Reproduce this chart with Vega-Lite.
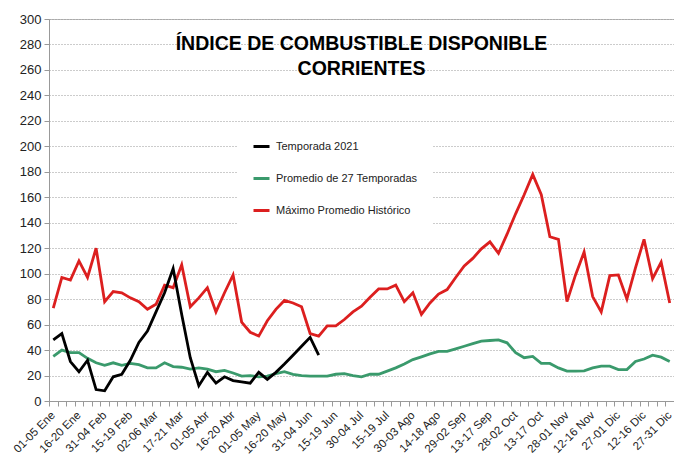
{
  "$schema": "https://vega.github.io/schema/vega-lite/v6.json",
  "width": 625,
  "height": 382,
  "autosize": {"type": "none"},
  "padding": {"left": 49, "top": 19, "right": 0, "bottom": 58},
  "background": "white",
  "title": {
    "text": ["ÍNDICE DE COMBUSTIBLE  DISPONIBLE", "CORRIENTES"],
    "font": "Liberation Sans",
    "fontSize": 19.5,
    "fontWeight": "bold",
    "color": "#000000",
    "lineHeight": 25,
    "anchor": "middle",
    "frame": "group",
    "offset": -66
  },
  "data": {
    "values": [
      {"pentada": "01-05 Ene", "Máximo Promedio Histórico": 73, "Promedio de 27 Temporadas": 35, "Temporada 2021": 48},
      {"pentada": "06-10 Ene", "Máximo Promedio Histórico": 97, "Promedio de 27 Temporadas": 40, "Temporada 2021": 53},
      {"pentada": "11-15 Ene", "Máximo Promedio Histórico": 95, "Promedio de 27 Temporadas": 38, "Temporada 2021": 31},
      {"pentada": "16-20 Ene", "Máximo Promedio Histórico": 110, "Promedio de 27 Temporadas": 38, "Temporada 2021": 23},
      {"pentada": "21-25 Ene", "Máximo Promedio Histórico": 97, "Promedio de 27 Temporadas": 33.5, "Temporada 2021": 32},
      {"pentada": "26-30 Ene", "Máximo Promedio Histórico": 120, "Promedio de 27 Temporadas": 30, "Temporada 2021": 9},
      {"pentada": "31-04 Feb", "Máximo Promedio Histórico": 78, "Promedio de 27 Temporadas": 28, "Temporada 2021": 8},
      {"pentada": "05-09 Feb", "Máximo Promedio Histórico": 86, "Promedio de 27 Temporadas": 30, "Temporada 2021": 19},
      {"pentada": "10-14 Feb", "Máximo Promedio Histórico": 85, "Promedio de 27 Temporadas": 28, "Temporada 2021": 21},
      {"pentada": "15-19 Feb", "Máximo Promedio Histórico": 81, "Promedio de 27 Temporadas": 29.5, "Temporada 2021": 32},
      {"pentada": "20-24 Feb", "Máximo Promedio Histórico": 78, "Promedio de 27 Temporadas": 28.5, "Temporada 2021": 46},
      {"pentada": "25-01 Mar", "Máximo Promedio Histórico": 72, "Promedio de 27 Temporadas": 26, "Temporada 2021": 55},
      {"pentada": "02-06 Mar", "Máximo Promedio Histórico": 76, "Promedio de 27 Temporadas": 26, "Temporada 2021": 70},
      {"pentada": "07-11 Mar", "Máximo Promedio Histórico": 91, "Promedio de 27 Temporadas": 30, "Temporada 2021": 85},
      {"pentada": "12-16 Mar", "Máximo Promedio Histórico": 89, "Promedio de 27 Temporadas": 27, "Temporada 2021": 104},
      {"pentada": "17-21 Mar", "Máximo Promedio Histórico": 107, "Promedio de 27 Temporadas": 26.5, "Temporada 2021": 68},
      {"pentada": "22-26 Mar", "Máximo Promedio Histórico": 74, "Promedio de 27 Temporadas": 25, "Temporada 2021": 34},
      {"pentada": "27-31 Mar", "Máximo Promedio Histórico": 81, "Promedio de 27 Temporadas": 26, "Temporada 2021": 12},
      {"pentada": "01-05 Abr", "Máximo Promedio Histórico": 89, "Promedio de 27 Temporadas": 25, "Temporada 2021": 22.5},
      {"pentada": "06-10 Abr", "Máximo Promedio Histórico": 70, "Promedio de 27 Temporadas": 23, "Temporada 2021": 14},
      {"pentada": "11-15 Abr", "Máximo Promedio Histórico": 85, "Promedio de 27 Temporadas": 24, "Temporada 2021": 19},
      {"pentada": "16-20 Abr", "Máximo Promedio Histórico": 99, "Promedio de 27 Temporadas": 22, "Temporada 2021": 16},
      {"pentada": "21-25 Abr", "Máximo Promedio Histórico": 62, "Promedio de 27 Temporadas": 19.5, "Temporada 2021": 15},
      {"pentada": "26-30 Abr", "Máximo Promedio Histórico": 54, "Promedio de 27 Temporadas": 20, "Temporada 2021": 14},
      {"pentada": "01-05 May", "Máximo Promedio Histórico": 51, "Promedio de 27 Temporadas": 19, "Temporada 2021": 22.5},
      {"pentada": "06-10 May", "Máximo Promedio Histórico": 63, "Promedio de 27 Temporadas": 19.5, "Temporada 2021": 17},
      {"pentada": "11-15 May", "Máximo Promedio Histórico": 72, "Promedio de 27 Temporadas": 21.5, "Temporada 2021": 22.5},
      {"pentada": "16-20 May", "Máximo Promedio Histórico": 79, "Promedio de 27 Temporadas": 23, "Temporada 2021": 29},
      {"pentada": "21-25 May", "Máximo Promedio Histórico": 77, "Promedio de 27 Temporadas": 21, "Temporada 2021": 36},
      {"pentada": "26-30 May", "Máximo Promedio Histórico": 74, "Promedio de 27 Temporadas": 20, "Temporada 2021": 43},
      {"pentada": "31-04 Jun", "Máximo Promedio Histórico": 53, "Promedio de 27 Temporadas": 19.5, "Temporada 2021": 50},
      {"pentada": "05-09 Jun", "Máximo Promedio Histórico": 51, "Promedio de 27 Temporadas": 19.5, "Temporada 2021": 36},
      {"pentada": "10-14 Jun", "Máximo Promedio Histórico": 59, "Promedio de 27 Temporadas": 19.5},
      {"pentada": "15-19 Jun", "Máximo Promedio Histórico": 59, "Promedio de 27 Temporadas": 21},
      {"pentada": "20-24 Jun", "Máximo Promedio Histórico": 64, "Promedio de 27 Temporadas": 21.5},
      {"pentada": "25-29 Jun", "Máximo Promedio Histórico": 70, "Promedio de 27 Temporadas": 20},
      {"pentada": "30-04 Jul", "Máximo Promedio Histórico": 74.5, "Promedio de 27 Temporadas": 19},
      {"pentada": "05-09 Jul", "Máximo Promedio Histórico": 81.5, "Promedio de 27 Temporadas": 21},
      {"pentada": "10-14 Jul", "Máximo Promedio Histórico": 88, "Promedio de 27 Temporadas": 21},
      {"pentada": "15-19 Jul", "Máximo Promedio Histórico": 88, "Promedio de 27 Temporadas": 23.5},
      {"pentada": "20-24 Jul", "Máximo Promedio Histórico": 91, "Promedio de 27 Temporadas": 26},
      {"pentada": "25-29 Jul", "Máximo Promedio Histórico": 78, "Promedio de 27 Temporadas": 29},
      {"pentada": "30-03 Ago", "Máximo Promedio Histórico": 85, "Promedio de 27 Temporadas": 32.5},
      {"pentada": "04-08 Ago", "Máximo Promedio Histórico": 68, "Promedio de 27 Temporadas": 34.7},
      {"pentada": "09-13 Ago", "Máximo Promedio Histórico": 77, "Promedio de 27 Temporadas": 37},
      {"pentada": "14-18 Ago", "Máximo Promedio Histórico": 84, "Promedio de 27 Temporadas": 39},
      {"pentada": "19-23 Ago", "Máximo Promedio Histórico": 87.5, "Promedio de 27 Temporadas": 39},
      {"pentada": "24-28 Ago", "Máximo Promedio Histórico": 97, "Promedio de 27 Temporadas": 41},
      {"pentada": "29-02 Sep", "Máximo Promedio Histórico": 106, "Promedio de 27 Temporadas": 43},
      {"pentada": "03-07 Sep", "Máximo Promedio Histórico": 112, "Promedio de 27 Temporadas": 45},
      {"pentada": "08-12 Sep", "Máximo Promedio Histórico": 119.5, "Promedio de 27 Temporadas": 47},
      {"pentada": "13-17 Sep", "Máximo Promedio Histórico": 125, "Promedio de 27 Temporadas": 47.5},
      {"pentada": "18-22 Sep", "Máximo Promedio Histórico": 116, "Promedio de 27 Temporadas": 48},
      {"pentada": "23-27 Sep", "Máximo Promedio Histórico": 131, "Promedio de 27 Temporadas": 45.7},
      {"pentada": "28-02 Oct", "Máximo Promedio Histórico": 147, "Promedio de 27 Temporadas": 38},
      {"pentada": "03-07 Oct", "Máximo Promedio Histórico": 162, "Promedio de 27 Temporadas": 34},
      {"pentada": "08-12 Oct", "Máximo Promedio Histórico": 178, "Promedio de 27 Temporadas": 35},
      {"pentada": "13-17 Oct", "Máximo Promedio Histórico": 162, "Promedio de 27 Temporadas": 29.5},
      {"pentada": "18-22 Oct", "Máximo Promedio Histórico": 129, "Promedio de 27 Temporadas": 29.5},
      {"pentada": "23-27 Oct", "Máximo Promedio Histórico": 127, "Promedio de 27 Temporadas": 26},
      {"pentada": "28-01 Nov", "Máximo Promedio Histórico": 78, "Promedio de 27 Temporadas": 23.5},
      {"pentada": "02-06 Nov", "Máximo Promedio Histórico": 99, "Promedio de 27 Temporadas": 23.5},
      {"pentada": "07-11 Nov", "Máximo Promedio Histórico": 117, "Promedio de 27 Temporadas": 23.7},
      {"pentada": "12-16 Nov", "Máximo Promedio Histórico": 82, "Promedio de 27 Temporadas": 26},
      {"pentada": "17-21 Nov", "Máximo Promedio Histórico": 70, "Promedio de 27 Temporadas": 27.4},
      {"pentada": "22-26 Nov", "Máximo Promedio Histórico": 98.5, "Promedio de 27 Temporadas": 27.4},
      {"pentada": "27-01 Dic", "Máximo Promedio Histórico": 99, "Promedio de 27 Temporadas": 24.7},
      {"pentada": "02-06 Dic", "Máximo Promedio Histórico": 80, "Promedio de 27 Temporadas": 24.7},
      {"pentada": "07-11 Dic", "Máximo Promedio Histórico": 104.6, "Promedio de 27 Temporadas": 31},
      {"pentada": "12-16 Dic", "Máximo Promedio Histórico": 127, "Promedio de 27 Temporadas": 33},
      {"pentada": "17-21 Dic", "Máximo Promedio Histórico": 96, "Promedio de 27 Temporadas": 36},
      {"pentada": "22-26 Dic", "Máximo Promedio Histórico": 109, "Promedio de 27 Temporadas": 34.4},
      {"pentada": "27-31 Dic", "Máximo Promedio Histórico": 77, "Promedio de 27 Temporadas": 31}
    ]
  },
  "transform": [
    {"fold": ["Máximo Promedio Histórico", "Promedio de 27 Temporadas", "Temporada 2021"], "as": ["serie", "valor"]}
  ],
  "mark": {"type": "line", "strokeWidth": 2.8, "strokeJoin": "miter"},
  "encoding": {
    "x": {
      "field": "pentada",
      "type": "ordinal",
      "sort": null,
      "scale": {"type": "point", "padding": 0.5},
      "axis": {
        "title": null,
        "labelAngle": -45,
        "labelFont": "Liberation Sans",
        "labelFontSize": 11.5,
        "labelColor": "#222222",
        "labelPadding": 3,
        "tickSize": 5,
        "tickColor": "#999999",
        "domainColor": "#999999",
        "tickOffset": -4.28,
        "labelOffset": 0,
        "grid": false,
        "labelOverlap": false,
        "labelExpr": "indexof(domain('x'), datum.value) % 3 === 0 ? datum.value : ''"
      }
    },
    "y": {
      "field": "valor",
      "type": "quantitative",
      "scale": {"domain": [0, 300]},
      "axis": {
        "title": null,
        "values": [0, 20, 40, 60, 80, 100, 120, 140, 160, 180, 200, 220, 240, 260, 280, 300],
        "labelFont": "Liberation Sans",
        "labelFontSize": 13,
        "labelColor": "#222222",
        "labelPadding": 3,
        "tickSize": 5,
        "tickColor": "#999999",
        "domainColor": "#999999",
        "grid": true,
        "gridColor": "#999999",
        "gridDash": [1, 2],
        "gridWidth": 1
      }
    },
    "color": {
      "field": "serie",
      "type": "nominal",
      "scale": {
        "domain": ["Temporada 2021", "Promedio de 27 Temporadas", "Máximo Promedio Histórico"],
        "range": ["#000000", "#3a9a6c", "#dc1f1f"]
      },
      "legend": {
        "title": null,
        "orient": "none",
        "legendX": 189,
        "legendY": 104,
        "fillColor": "white",
        "padding": 14,
        "symbolType": "stroke",
        "symbolStrokeWidth": 3,
        "symbolSize": 256,
        "rowPadding": 16,
        "labelFont": "Liberation Sans",
        "labelFontSize": 11,
        "labelColor": "#222222",
        "labelOffset": 5
      }
    }
  },
  "config": {
    "view": {"stroke": "#bbbbbb"}
  }
}
